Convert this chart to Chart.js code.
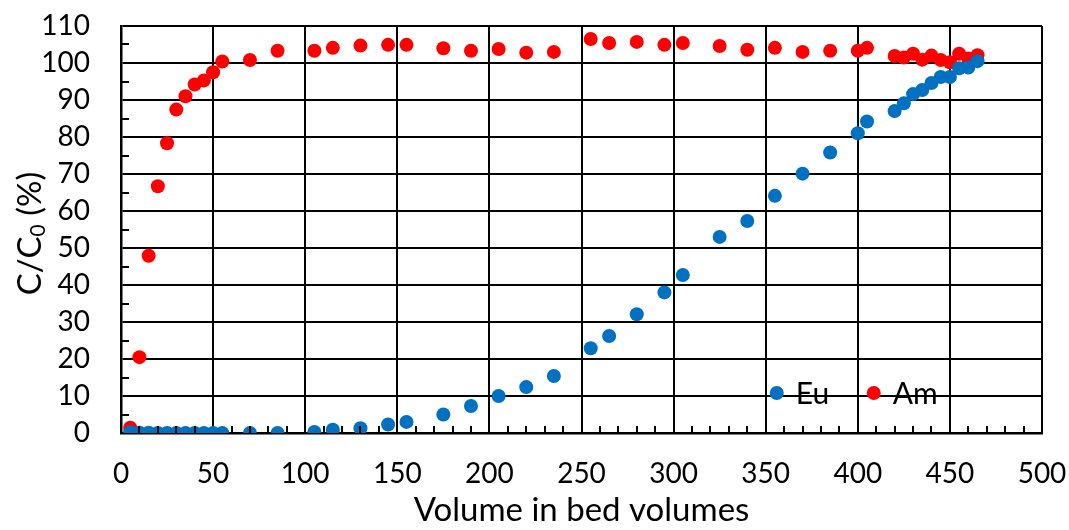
<!DOCTYPE html>
<html>
<head>
<meta charset="utf-8">
<script src="https://cdn.jsdelivr.net/npm/chart.js@4/dist/chart.umd.min.js"></script>
<style>
  html, body { margin: 0; padding: 0; background: #fff; }
  #wrap { width: 1069px; height: 530px; }
</style>
</head>
<body>
<div id="wrap"><canvas id="chart"></canvas></div>
<script>
// bed volumes and C/C0 (%)
const euX = [5, 10, 15, 20, 25, 30, 35, 40, 45, 50, 55, 70, 85, 105, 115, 130, 145, 155, 175, 190, 205, 220, 235, 255, 265, 280, 295, 305, 325, 340, 355, 370, 385, 400, 405, 420, 425, 430, 435, 440, 445, 450, 455, 460, 465]
const euY = [0.2, 0.1, 0.1, 0, 0, 0, 0, 0, 0, 0, 0, 0, 0, 0.3, 0.9, 1.3, 2.3, 3.0, 5.0, 7.3, 10.0, 12.4, 15.4, 22.9, 26.2, 32.1, 38.0, 42.7, 53.0, 57.3, 64.1, 70.1, 75.8, 81.0, 84.2, 87.0, 89.1, 91.6, 92.7, 94.6, 96.2, 96.2, 98.6, 98.8, 100.5]
const amX = [5, 10, 15, 20, 25, 30, 35, 40, 45, 50, 55, 70, 85, 105, 115, 130, 145, 155, 175, 190, 205, 220, 235, 255, 265, 280, 295, 305, 325, 340, 355, 370, 385, 400, 405, 420, 425, 430, 435, 440, 445, 450, 455, 460, 465]
const amY = [1.4, 20.5, 47.9, 66.7, 78.3, 87.4, 91.0, 94.2, 95.3, 97.5, 100.4, 100.8, 103.3, 103.3, 104.1, 104.7, 104.9, 104.9, 104.0, 103.3, 103.8, 102.8, 103.0, 106.5, 105.4, 105.7, 104.9, 105.4, 104.6, 103.6, 104.1, 103.0, 103.3, 103.3, 104.1, 101.9, 101.5, 102.5, 100.9, 102.0, 100.8, 100.2, 102.5, 101.2, 102.1]
const labels = ['Eu', 'Am']
const colors = ['#0070C0', '#FF0000']

const xTitle = 'Volume in bed volumes'
const fontFam = 'Lato, "Open Sans", sans-serif'

const toPts = (xs, ys) => xs.map((x, i) => ({x, y: ys[i]}))

// inward minor ticks, the legend inside the plot and the subscripted y title
const extras = {
  id: 'extras',
  afterDraw(chart) {
    const ctx = chart.ctx
    const xs = chart.scales.x, ys = chart.scales.y
    const a = chart.chartArea
    ctx.save()
    ctx.strokeStyle = '#000'
    ctx.lineWidth = 2
    ctx.beginPath()
    for (let v = 10; v < 500; v += 10) {
      if (v % 50 === 0) continue
      const px = Math.round(xs.getPixelForValue(v))
      ctx.moveTo(px, a.bottom)
      ctx.lineTo(px, a.bottom - 7)
    }
    for (let v = 5; v < 110; v += 10) {
      const py = Math.round(ys.getPixelForValue(v))
      ctx.moveTo(a.left, py)
      ctx.lineTo(a.left + 8, py)
    }
    ctx.stroke()

    // legend
    ctx.font = '30px ' + fontFam
    ctx.textBaseline = 'middle'
    let lx = xs.getPixelForValue(356)
    const ly = a.bottom - 40
    labels.forEach((lab, i) => {
      ctx.fillStyle = colors[i]
      ctx.beginPath()
      ctx.arc(lx, ly, 7, 0, Math.PI * 2)
      ctx.fill()
      ctx.fillStyle = '#000'
      ctx.fillText(lab, lx + 19, ly + 1)
      lx += 97
    })

    // y title C/C0 (%)
    ctx.translate(30, (a.top + a.bottom) / 2 + 4)
    ctx.rotate(-Math.PI / 2)
    ctx.textBaseline = 'middle'
    const p1 = 'C/C', p2 = '0', p3 = ' (%)'
    ctx.font = '33px ' + fontFam
    const w1 = ctx.measureText(p1).width, w3 = ctx.measureText(p3).width
    ctx.font = '21px ' + fontFam
    const w2 = ctx.measureText(p2).width
    let tx = -(w1 + w2 + w3) / 2
    ctx.fillStyle = '#000'
    ctx.font = '33px ' + fontFam
    ctx.fillText(p1, tx, 0)
    tx += w1
    ctx.font = '21px ' + fontFam
    ctx.fillText(p2, tx, 8)
    tx += w2
    ctx.font = '33px ' + fontFam
    ctx.fillText(p3, tx, 0)
    ctx.restore()
  }
}

new Chart(document.getElementById('chart'), {
  type: 'scatter',
  data: {
    datasets: [
      { label: labels[0], data: toPts(euX, euY), backgroundColor: colors[0], borderColor: colors[0], pointRadius: 7, pointHoverRadius: 7, borderWidth: 0 },
      { label: labels[1], data: toPts(amX, amY), backgroundColor: colors[1], borderColor: colors[1], pointRadius: 7, pointHoverRadius: 7, borderWidth: 0 }
    ]
  },
  options: {
    responsive: true,
    maintainAspectRatio: false,
    animation: false,
    layout: { padding: { left: 0, right: 27, top: 26, bottom: 0 } },
    plugins: { legend: { display: false }, tooltip: { enabled: false } },
    scales: {
      x: {
        type: 'linear', min: 0, max: 500,
        ticks: { stepSize: 50, autoSkip: false, color: '#000', font: { family: fontFam, size: 28 }, padding: 24, maxRotation: 0 },
        grid: { color: '#000', lineWidth: 2, drawTicks: false },
        border: { color: '#000', width: 2.5 },
        title: { display: true, text: xTitle, color: '#000', font: { family: fontFam, size: 33 }, padding: { top: 0, bottom: 0 } },
        afterFit(s) { s.height = 97; s.paddingRight = 0; s.paddingLeft = 0 }
      },
      y: {
        min: 0, max: 110,
        ticks: { stepSize: 10, autoSkip: false, color: '#000', font: { family: fontFam, size: 28 }, padding: 31 },
        grid: { color: '#000', lineWidth: 2, drawTicks: false },
        border: { color: '#000', width: 2.5 },
        afterFit(s) { s.width = 121; s.paddingTop = 0; s.paddingBottom = 0 }
      }
    }
  },
  plugins: [extras]
})
</script>
</body>
</html>
